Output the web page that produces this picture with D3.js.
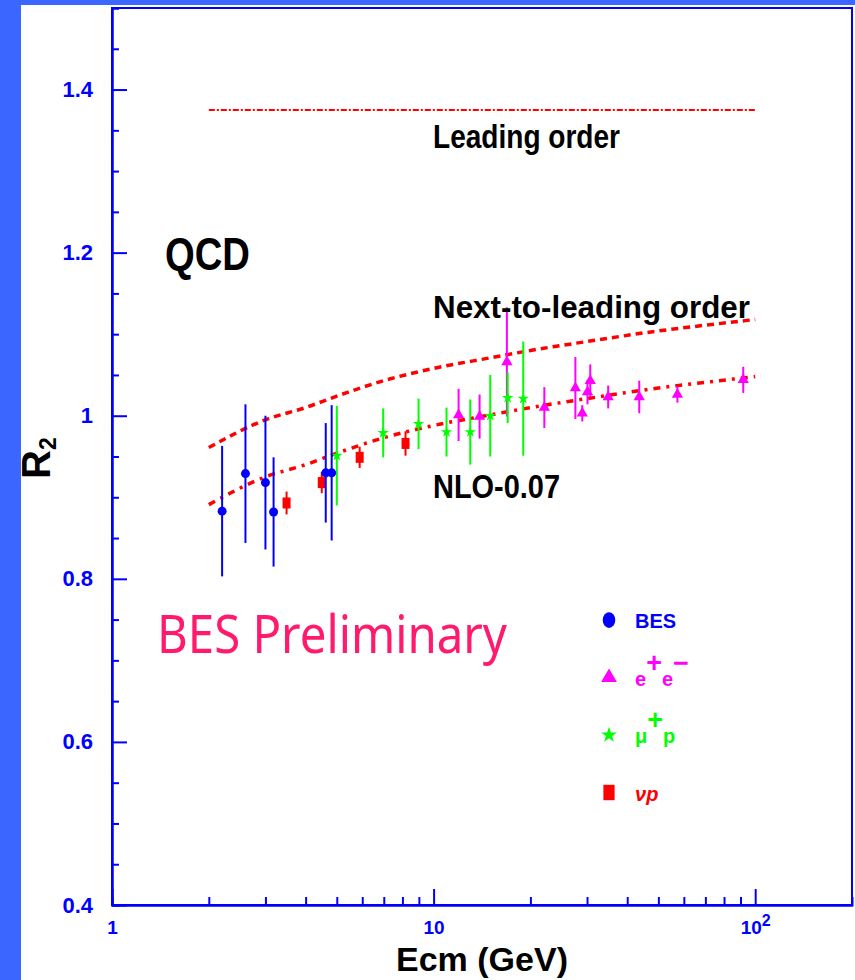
<!DOCTYPE html>
<html>
<head>
<meta charset="utf-8">
<script src="https://cdn.jsdelivr.net/npm/d3@7"></script>
<style>
  body { margin: 0; background: #3b66ff; }
  svg { display: block; }
</style>
</head>
<body>
<svg id="chart" width="855" height="980"></svg>
<script>
// ---- Data: R2 versus centre-of-mass energy (GeV) ----
const besE   = [2.2, 2.6, 3.0, 3.18, 4.62, 4.82];
const besR   = [0.883, 0.929, 0.918, 0.882, 0.930, 0.930];
const besErr = [0.080, 0.085, 0.082, 0.067, 0.061, 0.083];

const eeE   = [11.96, 13.9, 16.9, 22.1, 27.6, 29.0, 30.1, 30.7, 34.9, 43.6, 57.3, 91.8];
const eeR   = [1.001, 0.999, 1.066, 1.010, 1.034, 1.003, 1.029, 1.043, 1.023, 1.023, 1.026, 1.044];
const eeErr = [0.032, 0.027, 0.067, 0.025, 0.038, 0.010, 0.015, 0.020, 0.014, 0.020, 0.010, 0.016];

const mupE   = [5.0, 6.97, 8.98, 10.97, 13.0, 15.0, 17.0, 19.0];
const mupR   = [0.951, 0.979, 0.990, 0.980, 0.980, 1.000, 1.022, 1.021];
const mupErr = [0.061, 0.030, 0.031, 0.030, 0.040, 0.050, 0.031, 0.070];

const nupE   = [3.49, 4.49, 5.89, 8.18];
const nupR   = [0.893, 0.918, 0.949, 0.966];
const nupErr = [0.014, 0.013, 0.013, 0.015];

// QCD predictions
const loE  = [2, 100];
const loR  = [1.375, 1.375];
const nloE = [2, 3, 4, 5, 7, 10, 15, 20, 30, 50, 70, 100];
const nloR = [0.961, 0.995, 1.010, 1.024, 1.043, 1.058, 1.071, 1.080, 1.091, 1.104, 1.111, 1.118];
const nloShift = 0.07;   // "NLO-0.07"

// Axis ticks and labels
const yMajor = [0.4, 0.6, 0.8, 1.0, 1.2, 1.4];
const yTickLabels = ["0.4", "0.6", "0.8", "1", "1.2", "1.4"];
const xMajor = [1, 10, 100];
const xTickBase = ["1", "10", "10"];
const xTickExp  = ["", "", "2"];

// ---- Drawing ----
const W = 855, H = 980;
const BLUE = "#0000ff", RED = "#ff0000", MAG = "#ff00ff", GREEN = "#00ff00";
const svg = d3.select("#chart");

svg.append("rect").attr("width", W).attr("height", H).attr("fill", "#3b66ff");
svg.append("rect").attr("x", 21).attr("y", 5).attr("width", W - 21).attr("height", H - 5).attr("fill", "#ffffff");

const x = d3.scaleLog().domain([1, 200]).range([112, 852]);
const y = d3.scaleLinear().domain([0.4, 1.5]).range([905, 8]);

const tickFont = "'Liberation Sans', Arial, sans-serif";

// frame
svg.append("rect")
  .attr("x", x.range()[0]).attr("y", y.range()[1])
  .attr("width", x.range()[1] - x.range()[0])
  .attr("height", y.range()[0] - y.range()[1])
  .attr("fill", "none").attr("stroke", BLUE).attr("stroke-width", 2);

function styleAxis(g) {
  g.select(".domain").attr("stroke", BLUE).attr("stroke-width", 2);
  g.selectAll(".tick line").attr("stroke", BLUE).attr("stroke-width", 2);
  g.selectAll(".tick text")
    .attr("fill", BLUE).attr("font-family", tickFont)
    .attr("font-weight", "bold").attr("font-size", 22);
}

// y axis (ticks point inward)
const yMinor = d3.range(0.4, 1.5001, 0.05)
  .map(v => Math.round(v * 100) / 100)
  .filter(v => Math.round(v * 100) % 20 !== 0);

svg.append("g").attr("transform", `translate(${x.range()[0]},0)`)
  .call(d3.axisLeft(y).tickValues(yMinor).tickSize(-7).tickFormat(""))
  .call(styleAxis);
svg.append("g").attr("transform", `translate(${x.range()[0]},0)`)
  .call(d3.axisLeft(y).tickValues(yMajor).tickSizeInner(-15).tickSizeOuter(0)
        .tickPadding(19).tickFormat((d, i) => yTickLabels[i]))
  .call(styleAxis);

// x axis (log, ticks point inward)
const xMinor = [];
[1, 10, 100].forEach(dec => { for (let k = 2; k <= 9; k++) if (dec * k < 200) xMinor.push(dec * k); });

svg.append("g").attr("transform", `translate(0,${y.range()[0]})`)
  .call(d3.axisBottom(x).tickValues(xMinor).tickSize(-8).tickFormat(""))
  .call(styleAxis);
const gX = svg.append("g").attr("transform", `translate(0,${y.range()[0]})`)
  .call(d3.axisBottom(x).tickValues(xMajor).tickSizeInner(-16).tickSizeOuter(0)
        .tickPadding(16).tickFormat(() => ""))
  .call(styleAxis);
gX.selectAll(".tick text").attr("font-size", 19).each(function (d, i) {
  const t = d3.select(this);
  t.append("tspan").text(xTickBase[i]);
  if (xTickExp[i]) t.append("tspan").attr("dy", "-0.55em").attr("font-size", 16).text(xTickExp[i]);
});

// theory curves
const line = d3.line().x(d => x(d[0])).y(d => y(d[1])).curve(d3.curveMonotoneX);
svg.append("path")
  .attr("d", line(d3.zip(loE, loR)))
  .attr("fill", "none").attr("stroke", RED).attr("stroke-width", 2)
  .attr("stroke-dasharray", "6 2 2 2");
svg.append("path")
  .attr("d", line(d3.zip(nloE, nloR)))
  .attr("fill", "none").attr("stroke", RED).attr("stroke-width", 3.5)
  .attr("stroke-dasharray", "7 5");
svg.append("path")
  .attr("d", line(d3.zip(nloE, nloR.map(v => v - nloShift))))
  .attr("fill", "none").attr("stroke", RED).attr("stroke-width", 3.5)
  .attr("stroke-dasharray", "7 6 3 6");

// marker shapes
function marker(g, kind, color, scale) {
  const s = scale || 1;
  if (kind === "circle") {
    g.append("ellipse").attr("rx", 4.5 * s).attr("ry", 4.5 * s * (s > 1 ? 1.25 : 1)).attr("fill", color);
  } else if (kind === "triangle") {
    g.append("path").attr("d", d3.symbol(d3.symbolTriangle, 55 * s * s)()).attr("fill", color);
  } else if (kind === "star") {
    g.append("path").attr("d", d3.symbol(d3.symbolStar, 40 * s * s)()).attr("fill", color);
  } else if (kind === "square") {
    g.append("rect").attr("x", -4 * s).attr("y", -5.5 * s).attr("width", 8 * s).attr("height", 11 * s).attr("fill", color);
  }
}

function series(E, R, Err, color, kind) {
  const g = svg.append("g");
  const pts = E.map((e, i) => ({ e, r: R[i], err: Err[i] }));
  g.selectAll("line").data(pts).join("line")
    .attr("x1", d => x(d.e)).attr("x2", d => x(d.e))
    .attr("y1", d => y(d.r + d.err)).attr("y2", d => y(d.r - d.err))
    .attr("stroke", color).attr("stroke-width", 2);
  g.selectAll("g.pt").data(pts).join("g").attr("class", "pt")
    .attr("transform", d => `translate(${x(d.e)},${y(d.r)})`)
    .each(function () { marker(d3.select(this), kind, color); });
}

series(nupE, nupR, nupErr, RED, "square");
series(eeE, eeR, eeErr, MAG, "triangle");
series(mupE, mupR, mupErr, GREEN, "star");
series(besE, besR, besErr, BLUE, "circle");

// annotations
const labFont = "'Liberation Sans', Arial, sans-serif";
function label(txt, px, py, size, len, color, family, weight) {
  return svg.append("text").attr("x", px).attr("y", py)
    .attr("font-family", family || labFont).attr("font-weight", weight || "bold")
    .attr("font-size", size).attr("fill", color || "#000")
    .attr("textLength", len).attr("lengthAdjust", "spacingAndGlyphs")
    .text(txt);
}
label("Leading order", 433, 148, 34, 187);
label("QCD", 165, 270, 47, 85);
label("Next-to-leading order", 433, 318, 32, 317);
label("NLO-0.07", 433, 498, 33, 127);
label("BES Preliminary", 157, 653, 52, 350, "#ff1a6e", "'Noto Sans', 'DejaVu Sans', sans-serif", "normal");

// axis titles
label("Ecm (GeV)", 396, 971, 34, 172);
const yt = svg.append("text")
  .attr("transform", "translate(50,479) rotate(-90)")
  .attr("font-family", labFont).attr("font-weight", "bold").attr("font-size", 40).attr("fill", "#000");
yt.append("tspan").text("R");
yt.append("tspan").attr("dy", 6).attr("font-size", 23).text("2");

// legend
const legendKinds  = ["circle", "triangle", "star", "square"];
const legendColors = [BLUE, MAG, GREEN, RED];
const legendParts = [
  [["BES", 0]],
  [["e", 0], ["+", 1], ["e", 0], ["\u2212", 1]],
  [["\u03bc", 0], ["+", 1], ["p", 0]],
  [["\u03bd", 0], ["p", 0]]
];
const legendItalic = [false, false, false, true];
legendKinds.forEach((k, i) => {
  const cy = 620 + i * 57.5;
  const g = svg.append("g").attr("transform", `translate(609,${cy})`);
  marker(g, k, legendColors[i], 1.4);
  const t = svg.append("text").attr("x", 635).attr("y", cy + 8)
    .attr("font-family", labFont).attr("font-weight", "bold").attr("font-size", 20)
    .attr("fill", legendColors[i]).attr("font-style", legendItalic[i] ? "italic" : "normal");
  let raised = false;
  legendParts[i].forEach(([s, sup]) => {
    const ts = t.append("tspan").text(s);
    if (sup && !raised) { ts.attr("dy", -14).attr("font-size", 27); raised = true; }
    else if (!sup && raised) { ts.attr("dy", 14); raised = false; }
    else if (sup) ts.attr("font-size", 27);
  });
});
</script>
</body>
</html>
